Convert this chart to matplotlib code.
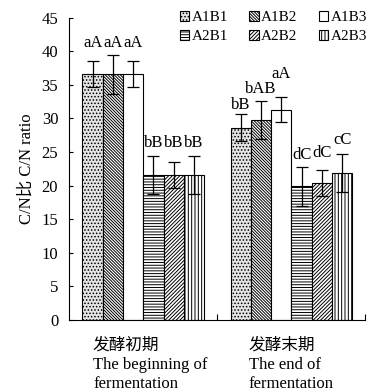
import matplotlib.pyplot as plt
import matplotlib.transforms as mtransforms
import numpy as np

plt.rcParams["font.family"] = ["Liberation Serif", "Noto Sans CJK SC"]
plt.rcParams["hatch.linewidth"] = 0.7
plt.rcParams["hatch.color"] = "black"

# C/N ratio at the two sampling times, six treatments
stages = ["发酵初期\nThe beginning of\nfermentation", "发酵末期\nThe end of\nfermentation"]
treatments = ["A1B1", "A1B2", "A1B3", "A2B1", "A2B2", "A2B3"]
cn_ratio = {
    "A1B1": [36.6, 28.6],
    "A1B2": [36.6, 29.8],
    "A1B3": [36.6, 31.3],
    "A2B1": [21.6, 19.9],
    "A2B2": [21.6, 20.4],
    "A2B3": [21.6, 21.9],
}
cn_err = {
    "A1B1": [1.9, 2.0],
    "A1B2": [2.9, 2.8],
    "A1B3": [1.9, 1.9],
    "A2B1": [2.8, 2.9],
    "A2B2": [1.9, 1.9],
    "A2B3": [2.8, 2.8],
}
# significance letters and the height they are written at
letters = {
    "A1B1": ["aA", "bB"],
    "A1B2": ["aA", "bAB"],
    "A1B3": ["aA", "aA"],
    "A2B1": ["bB", "dC"],
    "A2B2": ["bB", "dC"],
    "A2B3": ["bB", "cC"],
}
letter_y = {
    "A1B1": [41.2, 32.0],
    "A1B2": [41.2, 34.4],
    "A1B3": [41.2, 36.6],
    "A2B1": [26.4, 24.6],
    "A2B2": [26.4, 24.8],
    "A2B3": [26.4, 26.8],
}

styles = {
    "A1B1": dict(facecolor="#e4e4e4", hatch="....."),
    "A1B2": dict(facecolor="white", hatch="\\" * 11),
    "A1B3": dict(facecolor="white", hatch=None),
    "A2B1": dict(facecolor="white", hatch="------"),
    "A2B2": dict(facecolor="white", hatch="/" * 9),
    "A2B3": dict(facecolor="white", hatch="|||||"),
}

fig = plt.figure(figsize=(3.71, 3.92), dpi=100)
ax = fig.add_axes([69.3 / 371, 1 - 320 / 392, (365.5 - 69.3) / 371, (320 - 17.7) / 392])

x = np.arange(len(stages))
width = 0.137
bars = {}
for k, t in enumerate(treatments):
    pos = x + (k - 2.5) * width
    bars[t] = ax.bar(pos, cn_ratio[t], width, edgecolor="black", linewidth=0.8,
                     label=t, **styles[t])
    ax.errorbar(pos, cn_ratio[t], yerr=cn_err[t], fmt="none", ecolor="black",
                elinewidth=0.9, capsize=4, capthick=0.9)
    for p, s, yy in zip(pos, letters[t], letter_y[t]):
        ax.text(p, yy, s, ha="center", va="center", fontsize=12)

ax.set_xlim(-0.5, 1.5)
ax.set_ylim(0, 45)
ax.set_yticks(np.arange(0, 46, 5))
ax.tick_params(axis="y", direction="in", length=3, labelsize=12, pad=8)
ax.set_xticks([0.5, 1.5])
ax.set_xticklabels([])
ax.tick_params(axis="x", direction="in", length=4)
ax.spines["top"].set_visible(False)
ax.spines["right"].set_visible(False)

# stage names under each group, left aligned
trans = mtransforms.blended_transform_factory(ax.transData, fig.transFigure)
for xi, off, name in zip(x, [-0.34, -0.29], stages):
    ax.text(xi + off, 1 - 337.5 / 392, name, transform=trans, ha="left", va="top",
            fontsize=12, linespacing=1.27)

fig.text(27 / 371, 1 - 169 / 392, "C/N比 C/N ratio", rotation=90,
         ha="center", va="center", fontsize=12)

order = ["A1B1", "A2B1", "A1B2", "A2B2", "A1B3", "A2B3"]
ax.legend([bars[t] for t in order], order, ncol=3, loc="upper right",
          bbox_to_anchor=(367 / 371, 1 - 11 / 392), bbox_transform=fig.transFigure,
          frameon=False, fontsize=11, handlelength=0.62, handleheight=0.62,
          handletextpad=0.15, columnspacing=1.4, labelspacing=0.35,
          borderpad=0, borderaxespad=0)

fig.savefig("out.png", dpi=100)
